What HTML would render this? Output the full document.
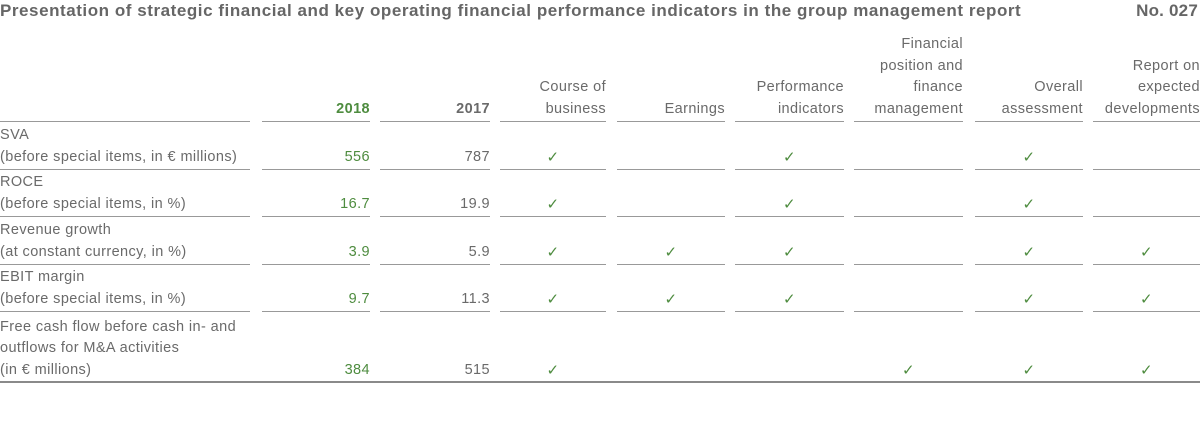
<!DOCTYPE html>
<html><head><meta charset="utf-8"><style>
body{margin:0;width:1200px;height:438px;background:#fff;font-family:"Liberation Sans",sans-serif;color:#6a6a6a;position:relative;overflow:hidden}
.t{position:absolute;top:1px;font-weight:bold;font-size:17px;color:#666;letter-spacing:0.55px;line-height:20px;white-space:nowrap}
.c{position:absolute;display:flex;flex-direction:column;justify-content:flex-end;border-bottom:1px solid #999;box-sizing:border-box;font-size:14.5px;line-height:21.5px;padding-bottom:1px;letter-spacing:0.4px}
.r{text-align:right}.m{text-align:center}
.g{color:#4e8c3f}.b{font-weight:bold}
.ck{color:#4e8c3f;font-size:15px}
.last{border-bottom:none}
</style></head><body>
<div class="t" style="left:0;width:1040px">Presentation of strategic financial and key operating financial performance indicators in the group management report</div>
<div class="t" style="right:2px;letter-spacing:0.2px">No. 027</div>
<div id="tbl"></div>
<div style="position:absolute;left:0;top:381px;width:1200px;height:2px;background:#8a8a8a"></div>
<script>
const L=[0,262,380,500,617,735,854,975,1093];
const R=[250,370,490,606,725,844,963,1083,1200];
const rowBottoms=[122,170,217,265,312,382];
const headers=[["",""],["2018","g b r"],["2017","b r"],["Course of<br>business","r"],["Earnings","r"],["Performance<br>indicators","r"],["Financial<br>position and<br>finance<br>management","r"],["Overall<br>assessment","r"],["Report on<br>expected<br>developments","r"]];
const labels=["SVA<br>(before special items, in € millions)","ROCE<br>(before special items, in %)","Revenue growth<br>(at constant currency, in %)","EBIT margin<br>(before special items, in %)","Free cash flow before cash in- and<br>outflows for M&amp;A activities<br>(in € millions)"];
const v2018=["556","16.7","3.9","9.7","384"];
const v2017=["787","19.9","5.9","11.3","515"];
const checks=[[1,0,1,0,1,0],[1,0,1,0,1,0],[1,1,1,0,1,1],[1,1,1,0,1,1],[1,0,0,1,1,1]];
const tbl=document.getElementById('tbl');
function cell(col,top,bottom,html,cls,last){
  const d=document.createElement('div');
  d.className='c '+cls+(last?' last':'');
  d.style.left=L[col]+'px';d.style.width=(R[col]-L[col])+'px';
  d.style.top=top+'px';d.style.height=(bottom-top)+'px';
  d.innerHTML=html;tbl.appendChild(d);return d;
}
headers.forEach((h,i)=>{
  const d=cell(i,20,rowBottoms[0],h[0],h[1],false);
  
  
});
labels.forEach((lab,r)=>{
  const top=rowBottoms[r],bot=rowBottoms[r+1],last=r===labels.length-1;
  let d=cell(0,top,bot,lab,'',last);
  
  
  d=cell(1,top,bot,v2018[r],'g r',last);
  
  
  d=cell(2,top,bot,v2017[r],'r',last);
  
  
  checks[r].forEach((c,k)=>{
    d=cell(3+k,top,bot,c?'<span class="ck">✓</span>':'','m',last);
    
    
  });
});
</script>
</body></html>
